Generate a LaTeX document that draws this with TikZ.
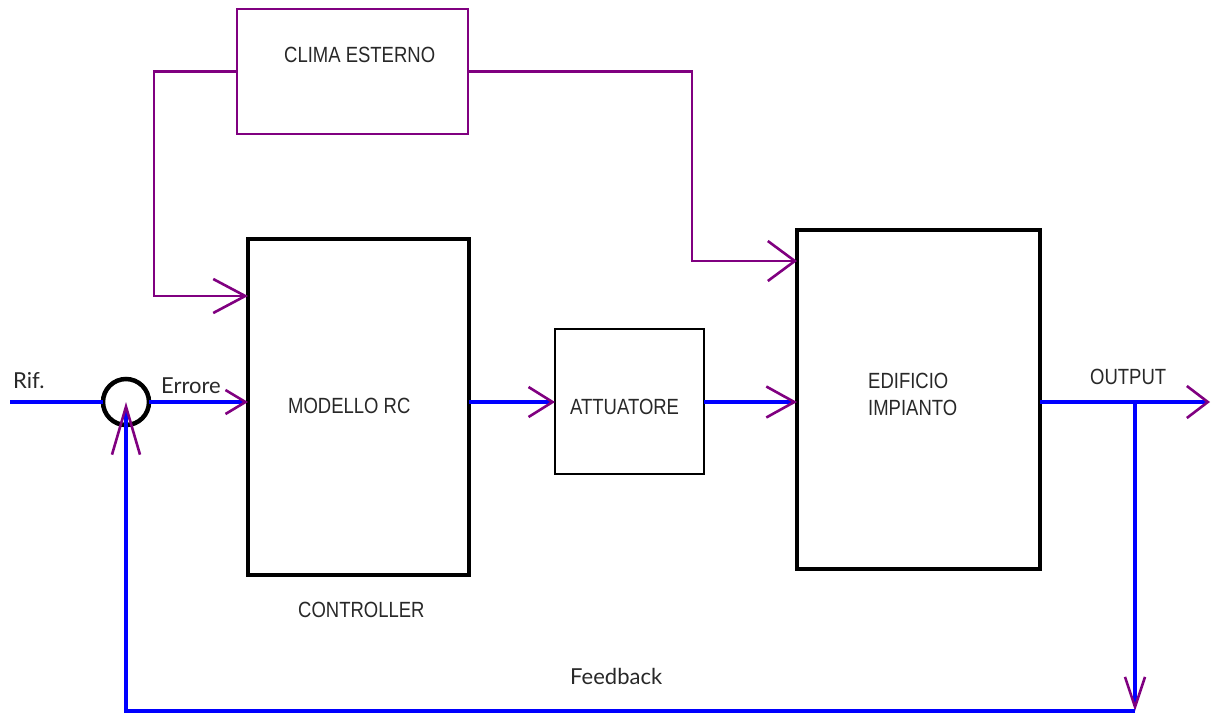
\documentclass[tikz,border=0pt]{standalone}
\usepackage{fontspec}
\setmainfont{Lato}
\newfontfamily\blockfont[FakeStretch=0.84]{Liberation Sans}
\usetikzlibrary{arrows.meta}
\definecolor{linkblue}{RGB}{0,0,255}
\definecolor{linkpurple}{RGB}{128,0,128}
\definecolor{txtgray}{RGB}{40,40,40}
\tikzset{
  blk/.style={draw=black, rectangle, inner sep=0pt, outer sep=0pt},
  sig/.style={draw=linkblue, line width=3.2pt},
  dist/.style={draw=linkpurple, line width=2.8pt},
  vtip/.style 2 args={-{Straight Barb[length=#1,width=#2,color=linkpurple,line width=2.6pt]}},
  blocktxt/.style={font=\blockfont\fontsize{22}{26}\selectfont, text=txtgray, inner sep=0pt, anchor=base west},
  labtxt/.style={font=\fontsize{22}{26}\selectfont, text=txtgray, inner sep=0pt, anchor=base west}
}
\begin{document}
\begin{tikzpicture}[x=1pt,y=-1pt]
\useasboundingbox (0,0) rectangle (1211,713);
% blocks
\node[blk, draw=linkpurple, line width=2.8pt, minimum width=231pt, minimum height=125pt] (clima) at (352.5,71.5) {};
\node[blk, line width=3.6pt, minimum width=221pt, minimum height=336pt] (ctrl) at (358.5,407) {};
\node[blk, line width=1.6pt, minimum width=149pt, minimum height=145pt] (att) at (629.5,401.5) {};
\node[blk, line width=4.6pt, minimum width=243pt, minimum height=339pt] (edif) at (918.5,399.5) {};
\node[draw=black, circle, line width=4.5pt, minimum size=46pt, inner sep=0pt, outer sep=0pt] (sum) at (126,402) {};
% texts
\node[blocktxt] (tclima) at (284,62) {CLIMA ESTERNO};
\node[blocktxt] (tctrl) at (288,413) {MODELLO RC};
\node[blocktxt] (tatt) at (570,414) {ATTUATORE};
\node[blocktxt] (tedif1) at (868,388) {EDIFICIO};
\node[blocktxt] (tedif2) at (868,415) {IMPIANTO};
\node[blocktxt] (tcontroller) at (298,617) {CONTROLLER};
\node[blocktxt] (tout) at (1090,384) {OUTPUT};
\node[labtxt] (trif) at (13,388) {Rif.};
\node[labtxt] (terr) at (161,393) {Errore};
\node[labtxt] (tfb) at (570,684) {Feedback};
% coordinates
\coordinate (rif) at (10,402);
\coordinate (outend) at (1210,402);
\coordinate (br) at (1135,402);
\coordinate (fbc) at (1135,711);
\coordinate (lc) at (154,296);
\coordinate (rc) at (692,261);
% blue signal path
\draw[sig] (rif) -- (sum.west |- rif);
\draw[sig, vtip={20pt}{24pt}] (sum.east |- rif) -- (rif -| ctrl.west);
\draw[sig, vtip={24pt}{30pt}] (rif -| ctrl.east) -- (rif -| att.west);
\draw[sig, vtip={28pt}{31pt}] (rif -| att.east) -- (rif -| edif.west);
\draw[sig, vtip={21pt}{32pt}] (rif -| edif.east) -- (outend);
\draw[sig, vtip={30pt}{20pt}] (br) -- (fbc);
\draw[sig, vtip={48pt}{28pt}] (fbc) -- (fbc -| sum) -- (sum.center);
% purple disturbance path
\draw[dist, vtip={32pt}{34pt}] (clima.west) -| (lc) -- (lc -| ctrl.west);
\draw[dist, vtip={27pt}{40pt}] (clima.east) -| (rc) -- (rc -| edif.west);
\end{tikzpicture}
\end{document}
